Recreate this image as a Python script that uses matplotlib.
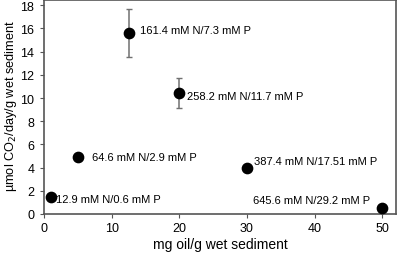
import matplotlib
matplotlib.use("Agg")
import matplotlib.pyplot as plt

plt.rcParams['font.family'] = ['Liberation Sans', 'DejaVu Sans']

# data
oil = [1, 5, 12.5, 20, 30, 50]
rate = [1.44, 4.88, 15.6, 10.4, 3.94, 0.49]
err = [0, 0, 2.05, 1.3, 0, 0]
labels = ["12.9 mM N/0.6 mM P", "64.6 mM N/2.9 mM P", "161.4 mM N/7.3 mM P",
          "258.2 mM N/11.7 mM P", "387.4 mM N/17.51 mM P", "645.6 mM N/29.2 mM P"]
# label offsets in points (dx, dy) and alignment
offs = [(4, -1), (10.5, 0), (8.4, 2.4), (5.3, -2), (5, 5.5), (-9, 6)]
aligns = ['left', 'left', 'left', 'left', 'left', 'right']

fig = plt.figure(figsize=(3.97, 2.55), dpi=100)
ax = fig.add_axes([0.111, 0.157, 0.886, 0.841])

gray = '#555555'
for i in range(len(oil)):
    if err[i] > 0:
        ax.errorbar(oil[i], rate[i], yerr=err[i], fmt='none', ecolor='#707070',
                    elinewidth=1.1, capsize=2, capthick=1)
ax.scatter(oil, rate, s=55, color='black', zorder=3)
for x, y, t, o, a in zip(oil, rate, labels, offs, aligns):
    ax.annotate(t, (x, y), xytext=o, textcoords='offset points', fontsize=8,
                va='center', ha=a)

ax.set_xlim(0, 52)
ax.set_ylim(0, 18.5)
ax.set_xticks([0, 10, 20, 30, 40, 50])
ax.set_yticks(range(0, 19, 2))
ax.tick_params(direction='out', length=3, color=gray, labelsize=9, pad=3)
ax.tick_params(axis='y', pad=4)
for s in ax.spines.values():
    s.set_color(gray)
    s.set_linewidth(1.2)
ax.set_xlabel("mg oil/g wet sediment", fontsize=10, labelpad=2)
ax.set_ylabel("µmol CO$_2$/day/g wet sediment", fontsize=9.2)
ax.yaxis.set_label_coords(-0.072, 0.51)

fig.savefig("out.png", dpi=100)
